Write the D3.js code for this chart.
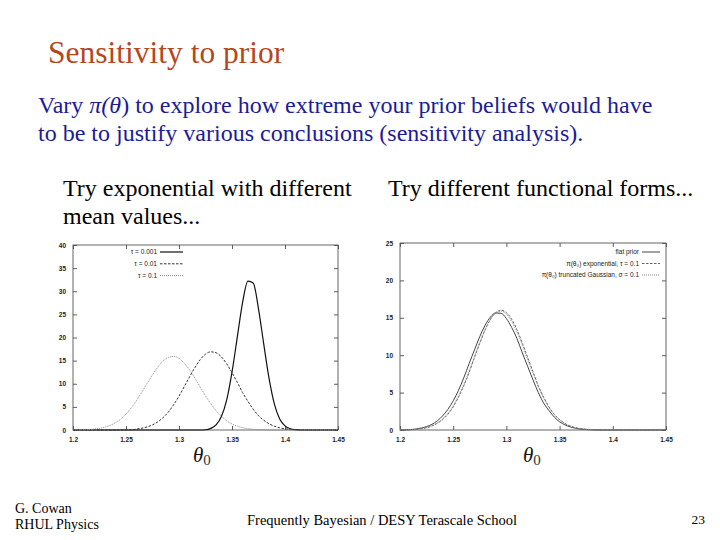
<!DOCTYPE html>
<html><head><meta charset="utf-8">
<script src="https://cdn.jsdelivr.net/npm/d3@7"></script>
<style>
body{margin:0;background:#fff;}
svg{display:block;}
</style></head>
<body><svg id="c" width="720" height="540"></svg>
<script>
// ---- data ----
const thetaGrid = [1.2,1.205,1.21,1.215,1.22,1.225,1.23,1.235,1.24,1.245,1.25,1.255,1.26,1.265,1.27,1.275,1.28,1.285,1.29,1.295,1.3,1.305,1.31,1.315,1.32,1.325,1.33,1.335,1.34,1.345,1.35,1.355,1.36,1.365,1.37,1.375,1.38,1.385,1.39,1.395,1.4,1.405,1.41,1.415,1.42,1.425,1.43,1.435,1.44,1.445,1.45];
const xTicks = [1.2,1.25,1.3,1.35,1.4,1.45];
const leftYTicks = [0,5,10,15,20,25,30,35,40];
const rightYTicks = [0,5,10,15,20,25];
const leftLabels = ["\u03c4 = 0.001","\u03c4 = 0.01","\u03c4 = 0.1"];
const rightLabels = ["flat prior","\u03c0(\u03b8\u2080) exponential, \u03c4 = 0.1","\u03c0(\u03b8\u2080) truncated Gaussian, \u03c3 = 0.1"];
// left panel: exponential priors with different tau
const tau0001 = [0,0,0,0,0,0,0,0,0,0,0,0,0,0,0,0,0,0,0,0,0,0,0,0,0,0.05,0.36,1.1,2.9,6.5,12.5,20.1,27.6,32.2,31.8,26.2,18.5,11.1,5.6,2.4,0.9,0.27,0.07,0,0,0,0,0,0,0,0];
const tau001 = [0,0,0,0,0,0,0,0,0,0,0,0.02,0.21,0.39,0.67,1.11,1.76,2.69,3.9,5.5,7.3,9.4,11.5,13.5,15.2,16.4,16.9,16.7,15.8,14.3,12.4,10.3,8.1,6.2,4.5,3.1,2.1,1.35,0.83,0.48,0.27,0.14,0.07,0.03,0,0,0,0,0,0,0];
const tau01 = [0,0.02,0.05,0.1,0.2,0.36,0.62,1.0,1.58,2.37,3.44,4.8,6.4,8.2,10.1,11.9,13.6,14.9,15.7,15.9,15.5,14.4,13.0,11.2,9.3,7.4,5.7,4.2,3.0,2.0,1.3,0.83,0.5,0.29,0.16,0.08,0.04,0.02,0,0,0,0,0,0,0,0,0,0,0,0,0];
// right panel: different functional forms
const flatPrior = [0,0.02,0.06,0.13,0.26,0.46,0.76,1.22,1.88,2.76,3.9,5.3,7.0,8.9,10.7,12.5,14.0,15.1,15.65,15.6,14.9,13.7,12.2,10.3,8.5,6.7,5.0,3.6,2.6,1.73,1.1,0.69,0.41,0.23,0.12,0.06,0.03,0,0,0,0,0,0,0,0,0,0,0,0,0,0];
const expPrior = [0,0.01,0.03,0.08,0.17,0.31,0.53,0.88,1.39,2.1,3.1,4.4,5.9,7.7,9.7,11.6,13.4,14.8,15.7,16.0,15.7,14.8,13.4,11.6,9.7,7.8,5.9,4.4,3.1,2.1,1.39,0.88,0.53,0.31,0.17,0.09,0.05,0.02,0,0,0,0,0,0,0,0,0,0,0,0,0];
const gaussPrior = [0,0.01,0.04,0.09,0.19,0.33,0.57,0.94,1.48,2.24,3.26,4.57,6.1,7.9,9.8,11.7,13.4,14.8,15.6,15.9,15.5,14.5,13.1,11.4,9.4,7.6,5.8,4.3,3.0,2.07,1.35,0.85,0.51,0.3,0.17,0.09,0.05,0.02,0,0,0,0,0,0,0,0,0,0,0,0,0];

const svg = d3.select("#c");
const serif = "'Liberation Serif','Times New Roman',serif";
const sans = "'Liberation Sans',Arial,sans-serif";

// ---- slide text ----
svg.append("text").attr("x",48).attr("y",63).attr("font-family",serif).attr("font-size",31.5)
  .attr("fill","#b4471c").text("Sensitivity to prior");
const l1 = svg.append("text").attr("x",38).attr("y",113).attr("font-family",serif).attr("font-size",24).attr("fill","#1c1c96");
l1.append("tspan").text("Vary ");
l1.append("tspan").attr("font-style","italic").text("\u03c0(\u03b8");
l1.append("tspan").text(") to explore how extreme your prior beliefs would have");
svg.append("text").attr("x",38).attr("y",141).attr("font-family",serif).attr("font-size",24).attr("fill","#1c1c96")
  .text("to be to justify various conclusions (sensitivity analysis).");
svg.append("text").attr("x",63).attr("y",196).attr("font-family",serif).attr("font-size",24).attr("fill","#000").text("Try exponential with different");
svg.append("text").attr("x",63).attr("y",224).attr("font-family",serif).attr("font-size",24).attr("fill","#000").text("mean values...");
svg.append("text").attr("x",388).attr("y",196).attr("font-family",serif).attr("font-size",24).attr("fill","#000").text("Try different functional forms...");

// footer
svg.append("text").attr("x",15).attr("y",513).attr("font-family",serif).attr("font-size",14).text("G. Cowan");
svg.append("text").attr("x",15).attr("y",529).attr("font-family",serif).attr("font-size",14).text("RHUL Physics");
svg.append("text").attr("x",382).attr("y",525).attr("text-anchor","middle").attr("font-family",serif).attr("font-size",14.5).text("Frequently Bayesian  /  DESY Terascale School");
svg.append("text").attr("x",705).attr("y",524).attr("text-anchor","end").attr("font-family",serif).attr("font-size",13.5).text("23");

// ---- panels ----
function panel(cfg){
  const x = d3.scaleLinear().domain([1.2,1.45]).range([cfg.x0,cfg.x1]);
  const y = d3.scaleLinear().domain([0,cfg.ymax]).range([cfg.y1,cfg.y0]);
  const g = svg.append("g");
  const fmt = d => String(+d.toFixed(2));
  const styleAxis = (sel, labels) => {
    sel.select(".domain").remove();
    sel.selectAll(".tick line").attr("stroke","#333").attr("stroke-width",0.8);
    sel.selectAll(".tick text").attr("font-family",sans).attr("font-size",6.5).attr("font-weight","bold").attr("fill","#222");
    if(!labels) sel.selectAll(".tick text").remove();
  };
  g.append("g").attr("transform",`translate(0,${cfg.y1})`).call(d3.axisBottom(x).tickValues(xTicks).tickFormat(fmt).tickSizeInner(-4).tickSizeOuter(0).tickPadding(7)).call(s=>styleAxis(s,true));
  g.append("g").attr("transform",`translate(0,${cfg.y0})`).call(d3.axisTop(x).tickValues(xTicks).tickSizeInner(-4).tickSizeOuter(0)).call(s=>styleAxis(s,false));
  g.append("g").attr("transform",`translate(${cfg.x0},0)`).call(d3.axisLeft(y).tickValues(cfg.yTicks).tickSizeInner(-4).tickSizeOuter(0).tickPadding(7)).call(s=>styleAxis(s,true));
  g.append("g").attr("transform",`translate(${cfg.x1},0)`).call(d3.axisRight(y).tickValues(cfg.yTicks).tickSizeInner(-4).tickSizeOuter(0)).call(s=>styleAxis(s,false));
  g.append("rect").attr("x",cfg.x0).attr("y",cfg.y0).attr("width",cfg.x1-cfg.x0).attr("height",cfg.y1-cfg.y0)
    .attr("fill","none").attr("stroke","#555").attr("stroke-width",0.9);

  const line = d3.line().x((d,i)=>x(thetaGrid[i])).y(d=>y(d)).curve(d3.curveMonotoneX);
  cfg.series.forEach((s,k)=>{
    g.append("path").attr("d",line(s.values)).attr("fill","none").attr("stroke",s.color)
      .attr("stroke-width",s.w).attr("stroke-dasharray",s.dash);
    const ly = cfg.legY + k*cfg.legDy;
    g.append("text").attr("x",cfg.legX).attr("y",ly+2).attr("text-anchor","end").attr("font-family",sans)
      .attr("font-size",6.5).attr("fill","#222").text(s.label);
    g.append("line").attr("x1",cfg.legX+3).attr("x2",cfg.legX+cfg.legLen).attr("y1",ly).attr("y2",ly)
      .attr("stroke",s.color).attr("stroke-width",s.w).attr("stroke-dasharray",s.dash);
  });
  // axis title
  const t = svg.append("text").attr("x",cfg.tx).attr("y",cfg.ty).attr("font-family",serif).attr("font-size",21).attr("font-style","italic").attr("fill","#111");
  t.append("tspan").text("\u03b8");
  t.append("tspan").attr("font-style","normal").attr("font-size",15).attr("dy",3).attr("fill","#333").text("0");
}

panel({x0:73,x1:338,y0:245,y1:430,ymax:40,yTicks:leftYTicks,tx:193,ty:462,
  legX:157,legY:252,legDy:11.8,legLen:26,
  series:[
    {values:tau0001,label:leftLabels[0],color:"#111",w:1.2,dash:null},
    {values:tau001,label:leftLabels[1],color:"#333",w:1,dash:"2.5,1.5"},
    {values:tau01,label:leftLabels[2],color:"#888",w:1,dash:"1,1"}
  ]});
panel({x0:400,x1:666,y0:243,y1:430,ymax:25,yTicks:rightYTicks,tx:523,ty:462,
  legX:639,legY:252,legDy:11.5,legLen:21,
  series:[
    {values:flatPrior,label:rightLabels[0],color:"#444",w:1,dash:null},
    {values:expPrior,label:rightLabels[1],color:"#666",w:1,dash:"2.5,1.5"},
    {values:gaussPrior,label:rightLabels[2],color:"#888",w:1,dash:"1,1"}
  ]});
</script></body></html>
